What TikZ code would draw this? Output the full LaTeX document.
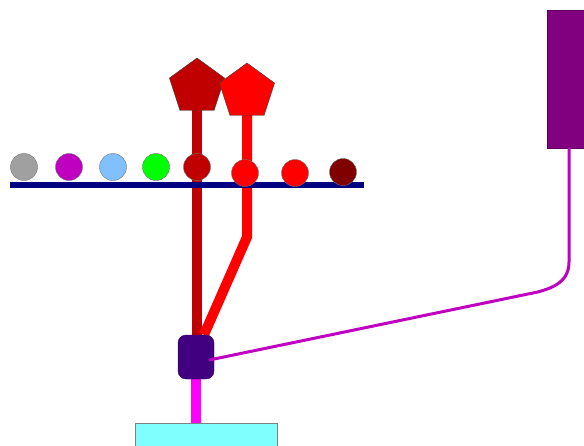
\documentclass[tikz,border=0pt]{standalone}
\usepackage{tikz}
\usetikzlibrary{shapes.geometric,positioning,backgrounds}
\definecolor{darkred}{HTML}{C00000}
\definecolor{brightred}{HTML}{FF0000}
\definecolor{maroon}{HTML}{800000}
\definecolor{barnavy}{HTML}{000080}
\definecolor{hubindigo}{HTML}{400080}
\definecolor{wirepink}{HTML}{C000C0}
\definecolor{stemmagenta}{HTML}{FF00FF}
\definecolor{basecyan}{HTML}{80FFFF}
\definecolor{tankpurple}{HTML}{800080}
\definecolor{ballgray}{HTML}{A0A0A0}
\definecolor{ballblue}{HTML}{80C0FF}
\definecolor{ballgreen}{HTML}{00FF00}
\begin{document}
\begin{tikzpicture}[x=1pt,y=-1pt,
  ball/.style={circle,draw=black!55,inner sep=0pt,minimum size=27pt},
  penta/.style={regular polygon,regular polygon sides=5,draw=black!75,inner sep=0pt,minimum size=58pt},
  stem/.style={line width=10pt},
  wire/.style={line width=3pt,wirepink}]
\useasboundingbox (0,0) rectangle (584,445);
% bar with the row of balls
\node[rectangle,fill=barnavy,inner sep=0pt,minimum width=354pt,minimum height=6pt] (bar) at (187,184.5) {};
\node[ball,fill=ballgray] (b1) at (24,167) {};
\node[ball,fill=wirepink] (b2) at (69,167) {};
\node[ball,fill=ballblue] (b3) at (113,167) {};
\node[ball,fill=ballgreen] (b4) at (156,167) {};
\node[ball,fill=darkred] (b5) at (197,167) {};
\node[ball,fill=brightred] (b6) at (245,173) {};
\node[ball,fill=brightred] (b7) at (295,173) {};
\node[ball,fill=maroon] (b8) at (343,172) {};
% heads
\node[penta,fill=darkred] (pdark) at (197,87) {};
\node[penta,fill=brightred] (pred) at (247,92) {};
% hub, base and tank
\node[rectangle,rounded corners=8pt,fill=hubindigo,draw=hubindigo!80!black,minimum width=36pt,minimum height=44pt] (hub) at (196,357) {};
\node[rectangle,fill=basecyan,draw=black!50,minimum width=142pt,minimum height=30pt] (base) at (206,438) {};
\node[rectangle,fill=tankpurple,draw=tankpurple!70!black,minimum width=44pt,minimum height=138pt] (tank) at (569,79) {};
\coordinate (bend) at (247,237);
\coordinate (wturn) at (528,294);
\coordinate (wup) at (569,262);
\begin{scope}[on background layer]
\draw[stem,darkred] (pdark.center) -- (pdark.center |- hub.center);
\draw[stem,brightred] (pred.center) -- (bend) -- ([xshift=8pt]hub.north);
\draw[stem,stemmagenta] (hub.south) -- (hub.south |- base.north);
\end{scope}
\draw[wire] ([xshift=-5pt,yshift=-3pt]hub.east) -- (wturn) .. controls (556,289) and (569,280) .. (wup) -- (tank.south);
\end{tikzpicture}
\end{document}
